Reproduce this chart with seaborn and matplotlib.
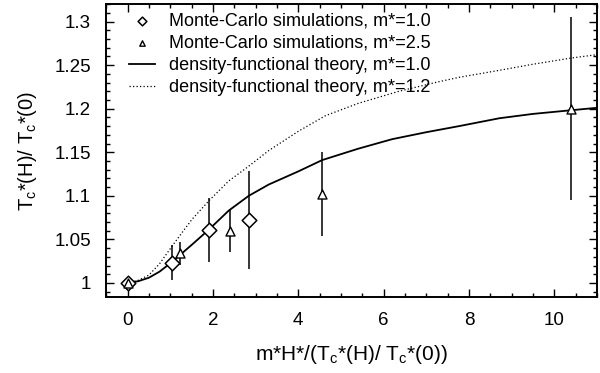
import numpy as np
import pandas as pd
from matplotlib import pyplot as plt
from matplotlib.ticker import MultipleLocator
import seaborn as sns

# Monte-Carlo points, m*=1.0
mc1_x = [0.0, 1.04, 1.90, 2.84]
mc1_y = [1.000, 1.023, 1.061, 1.072]
mc1_err = [0.0, 0.020, 0.037, 0.056]

# Monte-Carlo points, m*=2.5
mc2_x = [0.0, 1.24, 2.41, 4.55, 10.38]
mc2_y = [1.000, 1.034, 1.060, 1.102, 1.200]
mc2_err = [0.0, 0.013, 0.025, 0.048, 0.105]

# density-functional theory, m*=1.0 (solid)
dft1_x = [0.0, 0.25, 0.5, 0.75, 1.04, 1.25, 1.51, 1.9, 2.37, 2.84, 3.31, 4.0, 4.56, 5.4, 6.2, 7.0, 7.77, 8.71, 9.5, 10.35, 11.0]
dft1_y = [1.000, 1.002, 1.006, 1.013, 1.024, 1.033, 1.044, 1.061, 1.083, 1.100, 1.113, 1.128, 1.141, 1.154, 1.165, 1.173, 1.180, 1.189, 1.194, 1.198, 1.201]

# density-functional theory, m*=1.2 (dotted)
dft2_x = [0.0, 0.25, 0.5, 0.75, 1.04, 1.25, 1.51, 1.9, 2.37, 2.84, 3.31, 4.0, 4.64, 5.4, 6.36, 7.3, 7.77, 8.71, 9.5, 10.38, 11.0]
dft2_y = [1.000, 1.003, 1.009, 1.022, 1.042, 1.056, 1.073, 1.094, 1.117, 1.134, 1.152, 1.174, 1.192, 1.206, 1.220, 1.231, 1.236, 1.244, 1.251, 1.258, 1.262]

plt.rcParams['font.family'] = ['Liberation Sans', 'DejaVu Sans']
plt.rcParams['mathtext.fontset'] = 'custom'
plt.rcParams['mathtext.rm'] = 'Liberation Sans'
plt.rcParams['mathtext.it'] = 'Liberation Sans:italic'

fig = plt.figure(figsize=(6, 3.73), dpi=100)
ax = fig.add_axes([0.177, 0.204, 0.818, 0.785])

# error bars first, markers on top
ax.errorbar(mc1_x, mc1_y, yerr=mc1_err, fmt='none', ecolor='black', elinewidth=1.1, capsize=0)
ax.errorbar(mc2_x, mc2_y, yerr=mc2_err, fmt='none', ecolor='black', elinewidth=1.1, capsize=0)

sns.lineplot(x=dft1_x, y=dft1_y, ax=ax, color='black', linewidth=1.3,
             label='density-functional theory, m*=1.0', sort=False)
sns.lineplot(x=dft2_x, y=dft2_y, ax=ax, color='black', linewidth=0.9,
             linestyle=(0, (1, 1.8)), label='density-functional theory, m*=1.2', sort=False)

sns.scatterplot(x=mc1_x, y=mc1_y, ax=ax, marker='D', s=55, facecolor='white',
                edgecolor='black', linewidth=1.1, zorder=4,
                label='Monte-Carlo simulations, m*=1.0')
sns.scatterplot(x=mc2_x, y=mc2_y, ax=ax, marker='^', s=42, facecolor='white',
                edgecolor='black', linewidth=1.0, zorder=5,
                label='Monte-Carlo simulations, m*=2.5')

handles, labels = ax.get_legend_handles_labels()
order = [2, 3, 0, 1]
ax.legend([handles[i] for i in order], [labels[i] for i in order],
          loc='upper left', bbox_to_anchor=(0.025, 1.007), frameon=False,
          fontsize=13, handlelength=1.4, handletextpad=0.8, labelspacing=0.28,
          borderaxespad=0.2, markerscale=0.6)

ax.set_xlim(-0.5, 11)
ax.set_ylim(0.984, 1.32)
ax.xaxis.set_major_locator(MultipleLocator(2))
ax.xaxis.set_minor_locator(MultipleLocator(0.5))
ax.yaxis.set_minor_locator(MultipleLocator(0.01))
ax.set_yticks([1, 1.05, 1.1, 1.15, 1.2, 1.25, 1.3])
ax.set_yticklabels(['1', '1.05', '1.1', '1.15', '1.2', '1.25', '1.3'])

ax.tick_params(which='both', direction='in', top=True, right=True, labelsize=13.5, width=1)
ax.tick_params(which='major', length=6, pad=11)
ax.tick_params(which='minor', length=3)
for sp in ax.spines.values():
    sp.set_linewidth(1.4)

ax.set_xlabel(r'm*H*/(T$_\mathrm{c}$*(H)/ T$_\mathrm{c}$*(0))', fontsize=15, labelpad=10)
ax.set_ylabel(r'T$_\mathrm{c}$*(H)/ T$_\mathrm{c}$*(0)', fontsize=14.5, labelpad=11)

fig.savefig('out.png', dpi=100)
